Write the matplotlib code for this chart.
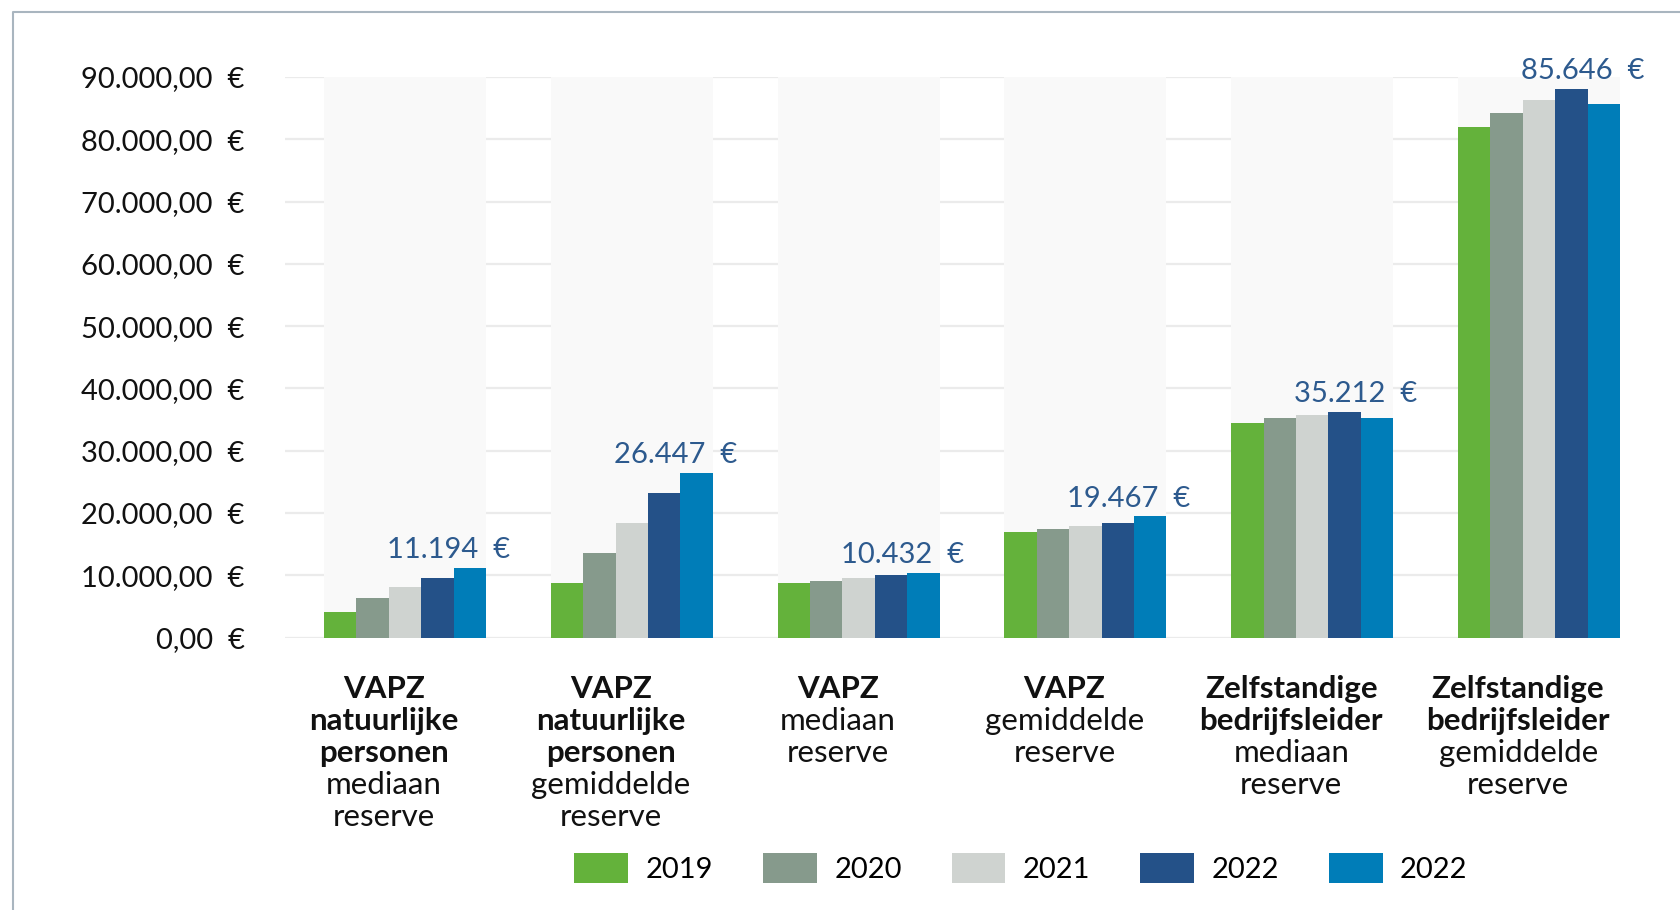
import numpy as np
from matplotlib import pyplot as plt
from matplotlib.lines import Line2D
from matplotlib.ticker import FuncFormatter

# values (euro)
groups_bold = [
    ['VAPZ', 'natuurlijke', 'personen'],
    ['VAPZ', 'natuurlijke', 'personen'],
    ['VAPZ'],
    ['VAPZ'],
    ['Zelfstandige', 'bedrijfsleider'],
    ['Zelfstandige', 'bedrijfsleider'],
]
groups_regular = [
    ['mediaan', 'reserve'],
    ['gemiddelde', 'reserve'],
    ['mediaan', 'reserve'],
    ['gemiddelde', 'reserve'],
    ['mediaan', 'reserve'],
    ['gemiddelde', 'reserve'],
]
years = ['2019', '2020', '2021', '2022', '2022']
v2019 = [4100, 8800, 8800, 16900, 34500, 82000]
v2020 = [6400, 13600, 9100, 17500, 35200, 84200]
v2021 = [8100, 18400, 9600, 17900, 35700, 86300]
v2022a = [9600, 23200, 10000, 18400, 36200, 88100]
v2022b = [11194, 26447, 10432, 19467, 35212, 85646]
colors = ['#64b23b', '#869a8c', '#cfd3d0', '#245188', '#007db8']
yticks = np.arange(0, 90001, 10000)

plt.rcParams['font.family'] = ['Lato', 'DejaVu Sans']
FS = 21

series = [v2019, v2020, v2021, v2022a, v2022b]
n = len(v2019)
x = np.arange(n)
w = 32.4 / 226.7

fig = plt.figure(figsize=(16.8, 9.1), dpi=100)
ax = fig.add_axes([285 / 1680, 1 - 637.5 / 910, (1620 - 285) / 1680, (637.5 - 77) / 910])

# light background band behind each group
ax.bar(x, yticks[-1], width=5 * w, color='#f9f9f9', zorder=1)

for j, (vals, c) in enumerate(zip(series, colors)):
    ax.bar(x + (j - 2) * w, vals, width=w, color=c, zorder=2, label=years[j])

# value labels above each group
for i in range(n):
    top = max(s[i] for s in series)
    txt = f"{v2022b[i]:,}".replace(',', '.') + '  €'
    ax.annotate(txt, xy=(x[i] + 2.5 * w, top), xytext=(17.5, 7), textcoords='offset points',
                ha='right', va='baseline', fontsize=FS, color='#2d5a8e', annotation_clip=False)

# category labels, bold part first then regular part
for i in range(n):
    lines = [(t, 'bold') for t in groups_bold[i]] + [(t, 'normal') for t in groups_regular[i]]
    for k, (t, wt) in enumerate(lines):
        ax.annotate(t, xy=(x[i], 0), xycoords=('data', 'axes fraction'),
                    xytext=(-15, -37 - 23 * k), textcoords='offset points',
                    ha='center', va='center', fontsize=22.5, fontweight=wt, color='#111111',
                    annotation_clip=False)

ax.set_xlim(-0.529, n - 1 + 2.5 * w)
ax.set_ylim(0, yticks[-1])
ax.set_yticks(yticks)
ax.yaxis.set_major_formatter(FuncFormatter(
    lambda v, p: f"{v:,.2f}".replace(',', 'X').replace('.', ',').replace('X', '.') + '  €'))
ax.set_xticks([])
ax.tick_params(axis='y', length=0, pad=29, labelsize=FS, labelcolor='#111111')
ax.yaxis.grid(True, color='#ebebeb', linewidth=1.6)
ax.set_axisbelow(True)
for s in ax.spines.values():
    s.set_visible(False)

fig.legend(loc='center', bbox_to_anchor=(1021 / 1680, 1 - 868 / 910), ncol=5, frameon=False,
           handlelength=1.85, handleheight=1.2, handletextpad=0.6,
           columnspacing=1.7, prop={'size': FS})

# thin frame on the top and left of the figure
fig.add_artist(Line2D([13 / 1680, 13 / 1680, 1], [0, 1 - 12 / 910, 1 - 12 / 910],
                      transform=fig.transFigure, color='#a9b5bf', linewidth=1.5))

fig.savefig('out.png', dpi=100)
